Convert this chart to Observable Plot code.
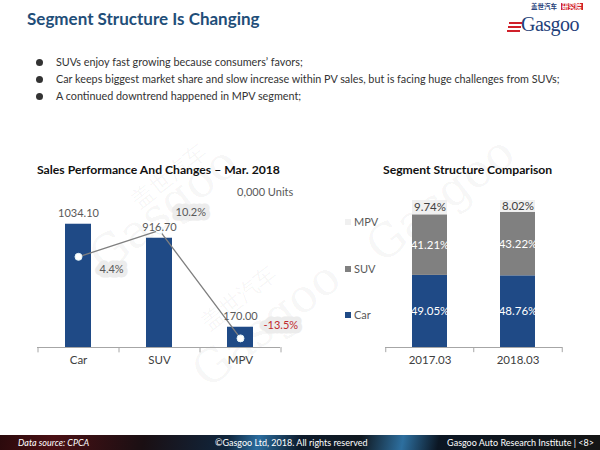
<!DOCTYPE html>
<html><head><meta charset="utf-8">
<script src="https://cdn.jsdelivr.net/npm/d3@7"></script>
<script src="https://cdn.jsdelivr.net/npm/@observablehq/plot@0.6"></script>
<style>
body{margin:0;width:600px;height:450px;position:relative;overflow:hidden;background:#fff;font-family:Lato,"Open Sans",sans-serif;}
.abs{position:absolute;}
#title{left:27px;top:8px;font-size:17px;font-weight:bold;color:#1f4e79;white-space:nowrap;}
.bullet{left:36px;font-size:10.8px;color:#333;white-space:nowrap;line-height:14px;}
.bullet span.dot{display:inline-block;width:7px;height:7px;border-radius:50%;background:#333;margin-right:13px;vertical-align:0px;}
.ctitle{font-size:12.2px;font-weight:bold;color:#111;white-space:nowrap;}
.wm{color:rgba(0,0,0,0.045);font-family:"DejaVu Serif",serif;white-space:nowrap;transform-origin:left center;}
#footer{left:0;top:435px;width:600px;height:15px;background:linear-gradient(100deg,#2b0a0c 0%,#4a1014 9%,#1a0f13 24%,#10263d 38%,#2a6c9e 43%,#0d1b2b 50%,#101820 60%,#2d6f9f 67%,#0b1623 73%,#151515 100%);color:#fff;font-size:9px;line-height:15px;}
#footer div{position:absolute;top:0;white-space:nowrap;}
#legend{left:345px;top:213px;font-size:11px;color:#595959;}
#legend .item{height:46.5px;line-height:18px;white-space:nowrap;}
#legend .sw{display:inline-block;width:6px;height:6px;margin-right:3px;vertical-align:1px;}
</style></head><body>
<script>
// ---- data ----
const titleText = "Segment Structure Is Changing";
const bullets = [
  "SUVs enjoy fast growing because consumers\u2019 favors;",
  "Car keeps biggest market share and slow increase within PV sales, but is facing huge challenges from SUVs;",
  "A continued downtrend happened in  MPV segment;"
];
const leftTitle = "Sales Performance  And Changes \u2013 Mar. 2018";
const unitsLabel = "0,000  Units";
const categories = ["Car", "SUV", "MPV"];
const sales = [1034.10, 916.70, 170.00];
const growth = [4.4, 10.2, -13.5];

const rightTitle = "Segment Structure  Comparison";
const periods = ["2017.03", "2018.03"];
const segments = ["Car", "SUV", "MPV"];
const share2017 = [49.05, 41.21, 9.74];
const share2018 = [48.76, 43.22, 8.02];
const segColors = ["#1f4a86", "#808080", "#f0f0f0"];

const footerLeft = "Data source: CPCA";
const footerMid = "\u00a9Gasgoo Ltd, 2018.  All rights reserved";
const footerRight = "Gasgoo Auto Research Institute  |  <8>";

// ---- page ----
function el(tag, cls, style, html){const e=document.createElement(tag);if(cls)e.className=cls;if(style)Object.assign(e.style,style);if(html!=null)e.innerHTML=html;document.body.appendChild(e);return e;}

// watermarks
el("div","abs wm",{left:"95px",top:"235px",fontSize:"46px",transform:"rotate(-38deg)"},"Gasgoo");
el("div","abs wm",{left:"135px",top:"188px",fontSize:"22px",transform:"rotate(-38deg)"},"盖世汽车");
el("div","abs wm",{left:"198px",top:"350px",fontSize:"46px",transform:"rotate(-38deg)"},"Gasgoo");
el("div","abs wm",{left:"205px",top:"310px",fontSize:"22px",transform:"rotate(-38deg)"},"盖世汽车");
el("div","abs wm",{left:"372px",top:"225px",fontSize:"46px",transform:"rotate(-38deg)"},"Gasgoo");

const t = el("div","abs",null,titleText); t.id="title";
// logo
el("div","abs",{left:"531px",top:"3px",fontSize:"6.5px",lineHeight:"7px",height:"7px",fontWeight:"bold",color:"#1f3f7a",fontFamily:"'Noto Sans CJK SC'"},"盖世汽车");
el("div","abs",{left:"561px",top:"3px",fontSize:"6.5px",fontWeight:"bold",color:"#fff",background:"#d0202a",padding:"0 1px",fontFamily:"'Noto Sans CJK SC'",lineHeight:"7px",height:"7px"},"研究院");
el("div","abs",{left:"521px",top:"15px",fontSize:"20px",lineHeight:"19px",color:"#1f3f7a",fontFamily:"'Liberation Serif',serif",letterSpacing:"-0.5px"},"Gasgoo");
el("div","abs",{left:"509px",top:"22px",width:"13px",height:"2px",background:"#d0202a",boxShadow:"-1px 4px 0 #d0202a, -2px 8px 0 #d0202a"});

bullets.forEach((b,i)=>{ el("div","abs bullet",{top:(55+i*17)+"px"},"<span class='dot'></span>"+b); });

el("div","abs ctitle",{left:"37px",top:"162px"},leftTitle);
el("div","abs",{left:"237px",top:"185px",fontSize:"11px",color:"#595959",whiteSpace:"nowrap"},unitsLabel);
el("div","abs ctitle",{left:"383px",top:"162px"},rightTitle);

// ---- left chart ----
const salesData = categories.map((c,i)=>({cat:c, v:sales[i], g:growth[i]}));
const font = "Lato, 'Open Sans', sans-serif";
const baseStyle = {fontFamily:font, fontSize:"11.5px", color:"#404040", background:"transparent", overflow:"visible"};
const xLeft = {domain:categories, paddingInner:0.68, paddingOuter:0.34, tickSize:0, tickPadding:8, label:null};
const axisCol = "#a6a6a6";
const leftDims = {width:300, height:195, marginLeft:37, marginRight:20, marginTop:18, marginBottom:28, style:baseStyle};
function place(svg, left, top){svg.style.position="absolute"; svg.style.left=left+"px"; svg.style.top=top+"px"; document.body.appendChild(svg);}

place(Plot.plot({
  ...leftDims,
  x:xLeft,
  y:{domain:[0,1250], axis:null},
  marks:[
    Plot.barY(salesData,{x:"cat", y:"v", fill:"#1f4a86"}),
    Plot.ruleY([0],{stroke:axisCol}),
    Plot.ruleX(categories,{x:d=>d, y1:0, y2:-45, dx:-40.5, stroke:axisCol}),
    Plot.ruleX(categories.slice(-1),{x:d=>d, y1:0, y2:-45, dx:40.5, stroke:axisCol})
  ]
}), 0, 180);

const lblStyle = {textAnchor:"start", fontSize:11, stroke:"#ececec", strokeWidth:9, strokeLinejoin:"round", paintOrder:"stroke"};
place(Plot.plot({
  ...leftDims,
  x:{...xLeft, axis:null},
  y:{domain:[-15.5,17.2], axis:null},
  marks:[
    Plot.line(salesData,{x:"cat", y:"g", stroke:"#7f7f7f", strokeWidth:1.3}),
    Plot.dot(salesData,{x:"cat", y:"g", r:3.5, fill:"#ffffff", stroke:"#e3f4f9", strokeWidth:1}),
    Plot.text(salesData.slice(0,1),{x:"cat", y:"g", text:d=>d.g.toFixed(1)+"%", dx:21, dy:13, fill:"#595959", ...lblStyle}),
    Plot.text(salesData.slice(1,2),{x:"cat", y:"g", text:d=>d.g.toFixed(1)+"%", dx:16, dy:-18, fill:"#595959", ...lblStyle}),
    Plot.text(salesData.slice(2,3),{x:"cat", y:"g", text:d=>d.g.toFixed(1)+"%", dx:23, dy:-13, fill:"#c0282d", ...lblStyle})
  ]
}), 0, 180);

// bar value labels on top
place(Plot.plot({
  ...leftDims,
  x:{...xLeft, axis:null},
  y:{domain:[0,1250], axis:null},
  marks:[
    Plot.text(salesData,{x:"cat", y:"v", text:d=>d.v.toFixed(2), dy:-11, fill:"#595959", fontSize:11})
  ]
}), 0, 180);

// ---- right chart ----
const shares = [share2017, share2018];
const shareData = periods.flatMap((p,pi)=>segments.map((s,si)=>({period:p, seg:s, v:shares[pi][si]})));
const stackOpts = {x:"period", y:"v", z:"seg", text:d=>d.v.toFixed(2)+"%"};
place(Plot.plot({
  width:260, height:195, marginLeft:45, marginRight:38, marginTop:20, marginBottom:28,
  style:baseStyle,
  x:{domain:periods, paddingInner:0.6, paddingOuter:0.3, tickSize:0, tickPadding:8, label:null},
  y:{domain:[0,100], axis:null},
  color:{domain:segments, range:segColors},
  marks:[
    Plot.barY(shareData,{x:"period", y:"v", fill:"seg"}),
    Plot.ruleY([0],{stroke:axisCol}),
    Plot.ruleX(periods,{x:d=>d, y1:0, y2:-3.5, dx:-44.25, stroke:axisCol}),
    Plot.ruleX(periods.slice(-1),{x:d=>d, y1:0, y2:-3.5, dx:44.25, stroke:axisCol}),
    Plot.text(shareData, Plot.filter(d=>d.seg!=="MPV", Plot.stackY({...stackOpts, fill:"white", fontSize:11.5}))),
    Plot.text(shareData, Plot.filter(d=>d.seg==="MPV", Plot.stackY({...stackOpts, fill:"#404040", fontSize:11.5})))
  ]
}), 340, 180);

// legend
const lg = el("div","abs",null,""); lg.id="legend";
segments.slice().reverse().forEach(s=>{
  const i = segments.indexOf(s);
  const it = document.createElement("div"); it.className="item";
  it.innerHTML = `<span class="sw" style="background:${segColors[i]}"></span>${s}`;
  lg.appendChild(it);
});

// footer
const f = el("div","abs",null,""); f.id="footer";
f.innerHTML = `<div style="left:18px;font-style:italic">${footerLeft}</div><div style="left:215px">${footerMid}</div><div style="right:6px">${footerRight.replace("<","&lt;").replace(">","&gt;")}</div>`;
</script>
</body></html>
